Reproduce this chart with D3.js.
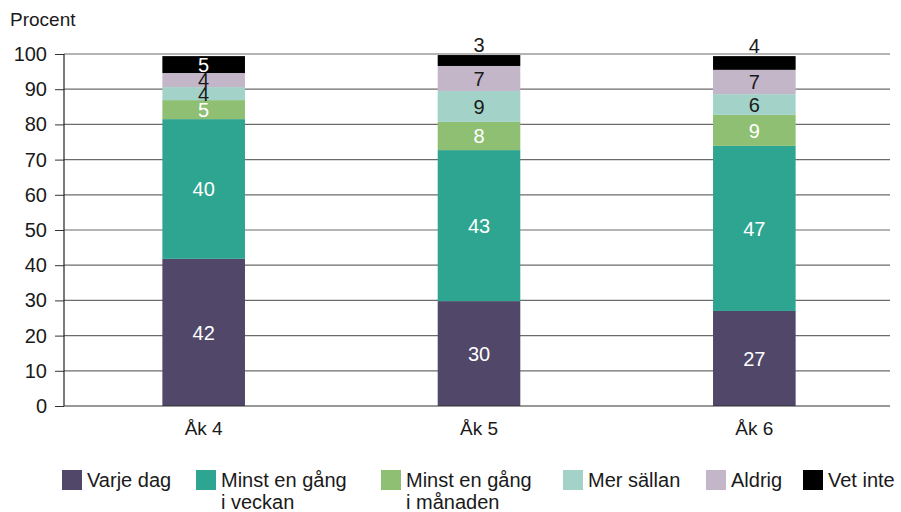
<!DOCTYPE html>
<html>
<head>
<meta charset="utf-8">
<script src="https://cdn.jsdelivr.net/npm/d3@7"></script>
<style>
  body { margin: 0; background: #fff; }
  svg text { font-family: "Liberation Sans", Arial, sans-serif; }
</style>
</head>
<body>
<div id="chart"></div>
<script>
const grades = ['Åk 4', 'Åk 5', 'Åk 6'];
const seriesNames = ['Varje dag', 'Minst en gång i veckan', 'Minst en gång i månaden', 'Mer sällan', 'Aldrig', 'Vet inte'];
const legendLines = [['Varje dag'], ['Minst en gång', 'i veckan'], ['Minst en gång', 'i månaden'], ['Mer sällan'], ['Aldrig'], ['Vet inte']];
const varjeDag = [41.8, 29.8, 27.0];
const veckan = [39.7, 42.9, 46.9];
const manaden = [5.4, 8.0, 8.8];
const merSallan = [3.7, 8.8, 5.9];
const aldrig = [4.0, 7.1, 6.9];
const vetInte = [4.8, 3.1, 3.9];
const yTicks = [0, 10, 20, 30, 40, 50, 60, 70, 80, 90, 100];

const colors = ['#504769', '#2ea590', '#8fbf73', '#a3d3c8', '#c4b6c9', '#000000'];
const labelColors = ['#fff', '#fff', '#fff', '#1a1a1a', '#1a1a1a', '#fff'];

const width = 901, height = 512;
const margin = { top: 54, right: 11, bottom: 106, left: 64 };
const innerW = width - margin.left - margin.right;
const innerH = height - margin.top - margin.bottom;

const table = grades.map((g, i) => ({
  grade: g,
  'Varje dag': varjeDag[i],
  'Minst en gång i veckan': veckan[i],
  'Minst en gång i månaden': manaden[i],
  'Mer sällan': merSallan[i],
  'Aldrig': aldrig[i],
  'Vet inte': vetInte[i],
}));

const stacked = d3.stack().keys(seriesNames)(table);

const svg = d3.select('#chart').append('svg')
  .attr('width', width).attr('height', height);

const g = svg.append('g').attr('transform', `translate(${margin.left},${margin.top})`);

const x = d3.scaleBand().domain(grades).range([2, innerW + 2]).paddingInner(0.7).paddingOuter(0.35);
const y = d3.scaleLinear().domain([0, 100]).range([innerH, 0]);

// grid + y axis
const yAxis = g.append('g')
  .call(d3.axisLeft(y).tickValues(yTicks).tickSize(9).tickPadding(8));
yAxis.select('.domain').remove();
yAxis.selectAll('.tick line').attr('stroke', '#333');
yAxis.selectAll('.tick text').attr('font-size', 20).attr('fill', '#1a1a1a')
  .style('font-family', '"Liberation Sans", Arial, sans-serif');

g.append('g').selectAll('line').data(yTicks.filter(d => d > 0)).join('line')
  .attr('x1', 0).attr('x2', innerW)
  .attr('y1', d => y(d)).attr('y2', d => y(d))
  .attr('stroke', '#6b6b6b').attr('stroke-width', 1.2);

// bars
const layers = g.append('g').selectAll('g').data(stacked).join('g')
  .attr('fill', (d, i) => colors[i]);
layers.selectAll('rect').data(d => d).join('rect')
  .attr('x', d => x(d.data.grade))
  .attr('width', x.bandwidth())
  .attr('y', d => y(d[1]))
  .attr('height', d => y(d[0]) - y(d[1]));

// bar labels
stacked.forEach((layer, i) => {
  layer.forEach(d => {
    const v = d[1] - d[0];
    const outside = i === seriesNames.length - 1 && v < 4.5;
    const cy = outside ? y(d[1]) - 10 : (y(d[0]) + y(d[1])) / 2;
    g.append('text')
      .attr('x', x(d.data.grade) + x.bandwidth() / 2)
      .attr('y', cy)
      .attr('dy', '0.36em')
      .attr('text-anchor', 'middle')
      .attr('font-size', 20)
      .attr('fill', outside ? '#1a1a1a' : labelColors[i])
      .text(d3.format('.0f')(v));
  });
});

// axes lines
g.append('line').attr('x1', 0).attr('x2', innerW).attr('y1', innerH).attr('y2', innerH)
  .attr('stroke', '#333').attr('stroke-width', 1.2);
g.append('line').attr('x1', 0).attr('x2', 0).attr('y1', 0).attr('y2', innerH)
  .attr('stroke', '#222').attr('stroke-width', 1.2);

// x labels
const xAxis = g.append('g').attr('transform', `translate(0,${innerH})`)
  .call(d3.axisBottom(x).tickSize(0).tickPadding(16));
xAxis.select('.domain').remove();
xAxis.selectAll('.tick text').attr('font-size', 19).attr('fill', '#1a1a1a')
  .style('font-family', '"Liberation Sans", Arial, sans-serif');

// y title
svg.append('text').attr('x', 10).attr('y', 26).attr('font-size', 19).attr('fill', '#1a1a1a').text('Procent');

// legend
const legendX = [62, 196, 381, 563, 706, 803];
const legend = svg.append('g').attr('transform', 'translate(0,470)');
seriesNames.forEach((name, i) => {
  const lg = legend.append('g').attr('transform', `translate(${legendX[i]},0)`);
  lg.append('rect').attr('width', 20).attr('height', 20).attr('fill', colors[i]);
  legendLines[i].forEach((line, j) => {
    lg.append('text').attr('x', 25).attr('y', 17 + j * 22)
      .attr('font-size', 20).attr('fill', '#1a1a1a')
      .text(line);
  });
});
</script>
</body>
</html>
